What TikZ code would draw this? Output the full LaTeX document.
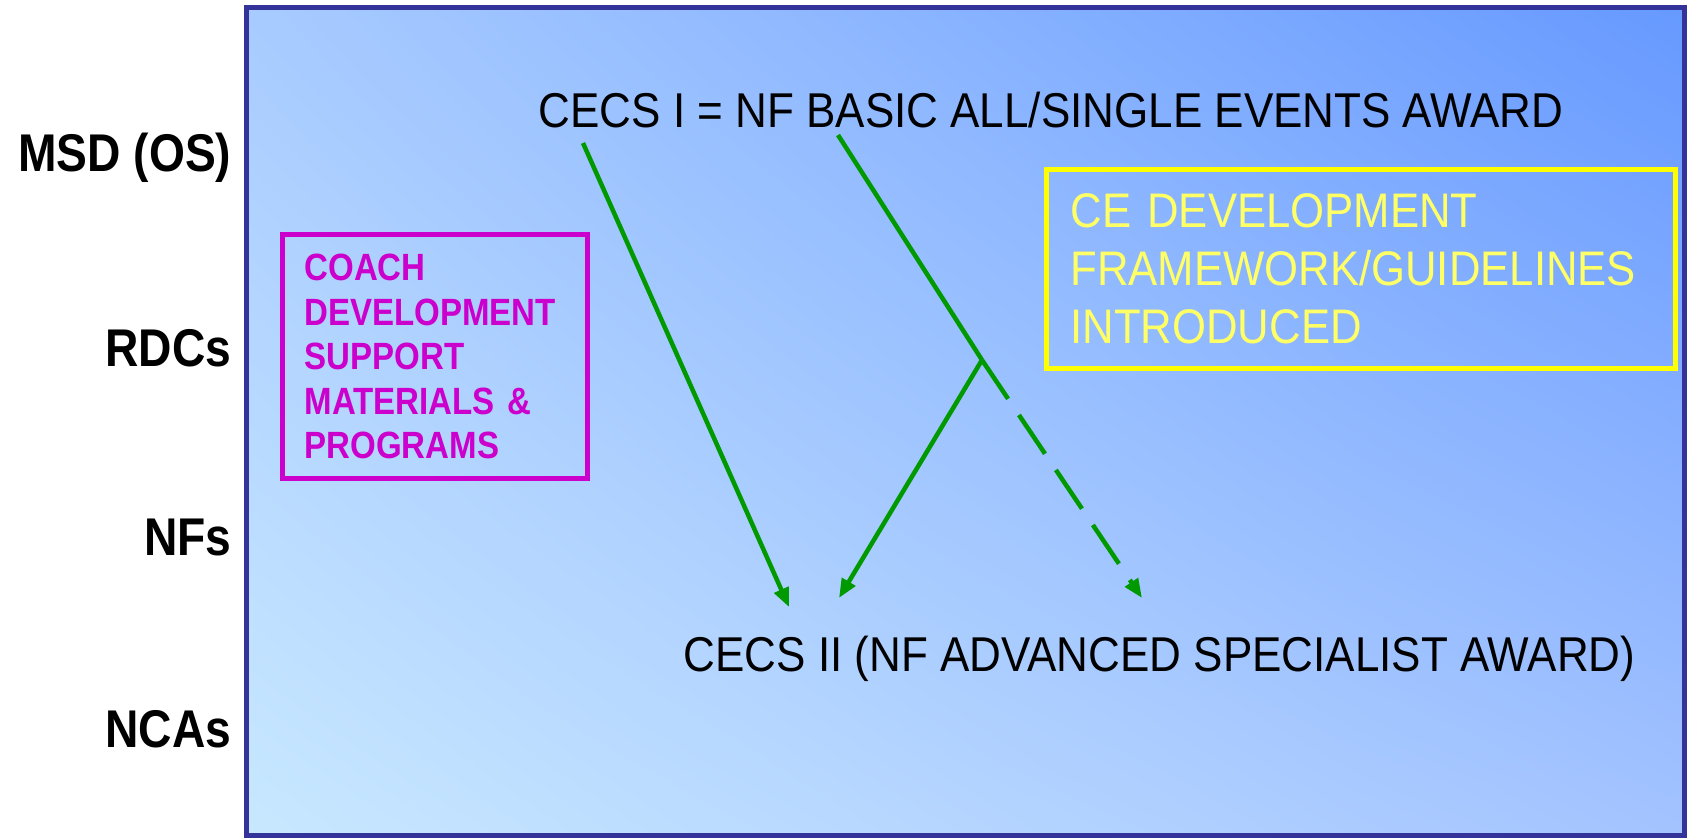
\documentclass[tikz,border=0pt]{standalone}
\usepackage{fontspec}
\setmainfont{Liberation Sans}
\newfontfamily\slidefont[FakeStretch=0.9]{Liberation Sans}
\newfontfamily\tagfont[FakeStretch=0.87]{Liberation Sans}
\usetikzlibrary{arrows.meta,shadings}

\definecolor{frameblue}{RGB}{51,51,153}
\definecolor{flowgreen}{RGB}{0,153,0}
\definecolor{boxmagenta}{RGB}{204,0,204}
\definecolor{boxyellow}{RGB}{255,255,0}
\definecolor{textyellow}{RGB}{255,255,102}
\definecolor{bgul}{RGB}{168,203,255}
\definecolor{bgur}{RGB}{102,153,255}
\definecolor{bgll}{RGB}{200,232,255}
\definecolor{bglr}{RGB}{163,195,255}

\begin{document}
\begin{tikzpicture}[x=0.01cm,y=-0.01cm,>={Triangle[length=1.9mm,width=1.5mm]},
                level node/.style={anchor=base east,inner sep=0pt,
                  font=\tagfont\bfseries\fontsize{15.1}{18}\selectfont},
                title node/.style={anchor=base west,inner sep=0pt,
                  font=\slidefont\fontsize{13.9}{16}\selectfont},
                note box/.style={draw,line width=0.5mm,anchor=north west,
                  align=left,inner ysep=0pt},
                flow/.style={draw=flowgreen,line width=0.45mm}]

  \useasboundingbox (0,0) rectangle (1687,838);
  \shade[upper left=bgul,upper right=bgur,lower left=bgll,lower right=bglr]
    (246,7) rectangle (1684,835);
  \draw[frameblue,line width=0.5mm] (246,7) rectangle (1684,835);

  % levels
  \node[level node] (msd) at (232,171) {MSD (OS)};
  \node[level node] (rdc) at (232,366) {RDCs};
  \node[level node] (nf)  at (232,555) {NFs};
  \node[level node] (nca) at (232,747) {NCAs};

  \node[title node] (cecs1) at (538,127) {CECS I = NF BASIC ALL/SINGLE EVENTS AWARD};
  \node[title node] (cecs2) at (683,671) {CECS II (NF ADVANCED SPECIALIST AWARD)};

  \node[note box,draw=boxmagenta,text=boxmagenta,
        font=\tagfont\bfseries\fontsize{10.8}{12.7}\selectfont,
        text width=2.61cm,inner xsep=0.22cm,minimum height=2.44cm]
        (support) at (280,232) {COACH\\DEVELOPMENT\\SUPPORT\\MATERIALS \&\\PROGRAMS};
  \node[note box,draw=boxyellow,text=textyellow,
        font=\slidefont\fontsize{13.8}{16.5}\selectfont,
        text width=5.81cm,inner xsep=0.24cm,minimum height=1.99cm]
        (framework) at (1044,167) {CE DEVELOPMENT\\FRAMEWORK/GUIDELINES\\INTRODUCED};

  \coordinate (s1) at (583,143);
  \coordinate (s2) at (838,135);
  \coordinate (j)  at (982,360);
  \coordinate (t1) at (789,607);
  \coordinate (t2) at (839,598);
  \coordinate (t3) at (1142,598);

  \draw[flow,->] (s1) -- (t1);
  \draw[flow] (s2) -- (j);
  \draw[flow,->] (j) -- (t2);
  \draw[flow,->,dash pattern=on 4.67mm off 1.95mm] (j) -- (t3);
\end{tikzpicture}
\end{document}
